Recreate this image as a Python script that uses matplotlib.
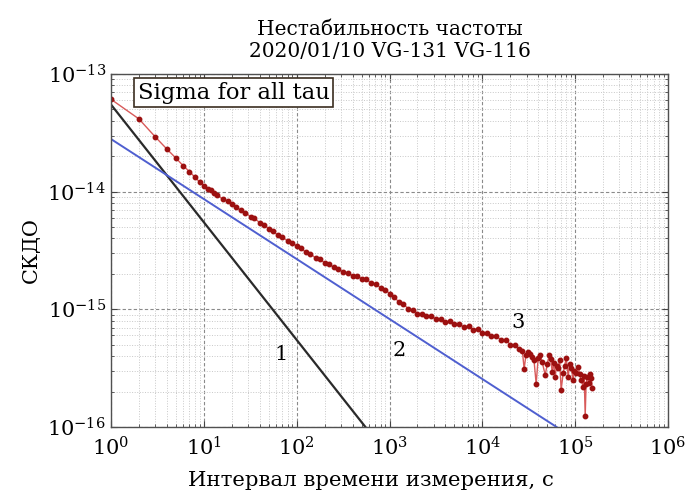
import numpy as np
import matplotlib.pyplot as plt

plt.rcParams['font.family'] = ['DejaVu Serif']
plt.rcParams['mathtext.fontset'] = 'dejavuserif'

# line 1 (slope -1) and line 2 (slope -1/2), end points
tau_1 = [1, 550]
sig_1 = [5.5e-14, 1.0e-16]
tau_2 = [1, 63000]
sig_2 = [2.8e-14, 1.0e-16]

# line 3: measured sigma for all tau, values in units of 1e-15
tau_3 = [1, 2, 3, 4, 5, 6, 7, 8, 9, 10,
         11, 12, 13, 14, 16, 18, 20, 22, 25, 28,
         32, 35, 40, 45, 50, 56, 63, 70, 80, 90,
         100, 112, 125, 140, 160, 180, 200, 224, 250, 280,
         316, 355, 400, 450, 500, 560, 630, 710, 800, 900,
         1000, 1120, 1250, 1400, 1600, 1800, 2000, 2240, 2500, 2800,
         3160, 3550, 4000, 4500, 5000, 5600, 6300, 7100, 8000, 9000,
         10000, 11200, 12500, 14000, 16000, 18000, 20000, 22400, 25000,
         27000, 28200, 29500, 31200, 33000, 34400, 36000, 38000, 39900, 42000,
         44100, 47500, 50000, 52500, 54500, 56500, 58500, 60900, 63000, 65600,
         68000, 70600, 74300, 77000, 80000, 84100, 87000, 90600, 95100, 98000,
         102500, 107700, 112000, 116000, 122000, 125000, 128200, 131000, 134700, 141500,
         145000, 148600, 152400]
sig_3 = [61.0, 41.5, 29.2, 23.0, 19.3, 16.6, 14.8, 13.3, 12.1, 11.2,
         10.6, 10.3, 9.7, 9.4, 8.6, 8.35, 7.8, 7.45, 6.95, 6.65,
         6.1, 5.95, 5.45, 5.2, 4.85, 4.6, 4.25, 4.1, 3.82, 3.66,
         3.45, 3.3, 3.06, 2.97, 2.73, 2.66, 2.48, 2.43, 2.27, 2.22,
         2.06, 2.05, 1.93, 1.92, 1.82, 1.80, 1.68, 1.64, 1.53, 1.47,
         1.36, 1.28, 1.16, 1.11, 1.01, 0.99, 0.92, 0.92, 0.87, 0.87,
         0.83, 0.83, 0.78, 0.79, 0.75, 0.75, 0.71, 0.72, 0.67, 0.68,
         0.63, 0.63, 0.59, 0.59, 0.55, 0.55, 0.50, 0.50, 0.46,
         0.44, 0.312, 0.41, 0.435, 0.42, 0.394, 0.37, 0.232, 0.386, 0.41,
         0.357, 0.277, 0.34, 0.41, 0.38, 0.294, 0.35, 0.267, 0.33, 0.318,
         0.37, 0.207, 0.288, 0.33, 0.386, 0.267, 0.34, 0.318, 0.251, 0.30,
         0.288, 0.324, 0.28, 0.251, 0.219, 0.27, 0.124, 0.23, 0.267, 0.237,
         0.28, 0.261, 0.215]

fig = plt.figure(figsize=(6.86, 4.98), dpi=100)
ax = fig.add_axes([0.1618, 0.1426, 0.8120, 0.7088])

ax.plot(tau_1, sig_1, color='#2a2a2a', lw=1.6)
ax.plot(tau_2, sig_2, color='#4f5fd0', lw=1.4)
ax.plot(tau_3, np.array(sig_3) * 1e-15, color='#d85a5a', lw=1.0,
        marker='o', ms=3.2, mfc='#9c1010', mec='#9c1010')

ax.set_xscale('log')
ax.set_yscale('log')
ax.set_xlim(1, 1e6)
ax.set_ylim(1e-16, 1e-13)

ax.grid(True, which='major', color='#8a8a8a', ls=(0, (3, 2)), lw=0.8)
ax.grid(True, which='minor', color='#c8c8c8', ls=':', lw=0.7)
ax.tick_params(which='both', direction='in', top=True, right=True,
               colors='#444444', labelcolor='black', labelsize=15)
ax.tick_params(which='major', length=4)
ax.tick_params(which='minor', length=2.5)
ax.tick_params(axis='x', pad=7)
for s in ax.spines.values():
    s.set_color('#505050')
    s.set_linewidth(1.0)

ax.text(0.048, 0.978, 'Sigma for all tau', transform=ax.transAxes,
        fontsize=16.3, va='top', ha='left',
        bbox=dict(boxstyle='square,pad=0.15', fc='white', ec='#3b2e20', lw=1.2))

ax.text(68, 4.1e-16, '1', fontsize=15, ha='center', va='center')
ax.text(1260, 4.5e-16, '2', fontsize=15, ha='center', va='center')
ax.text(2.4e4, 7.7e-16, '3', fontsize=15, ha='center', va='center')

ax.set_title('Нестабильность частоты\n2020/01/10 VG-131 VG-116',
             fontsize=14.5, pad=12, linespacing=1.2)
ax.set_xlabel('Интервал времени измерения, с', fontsize=15.3)
ax.xaxis.set_label_coords(0.466, -0.125)
ax.set_ylabel('СКДО', fontsize=15)
ax.yaxis.set_label_coords(-0.125, 0.5)

fig.savefig('out.png', dpi=100)
